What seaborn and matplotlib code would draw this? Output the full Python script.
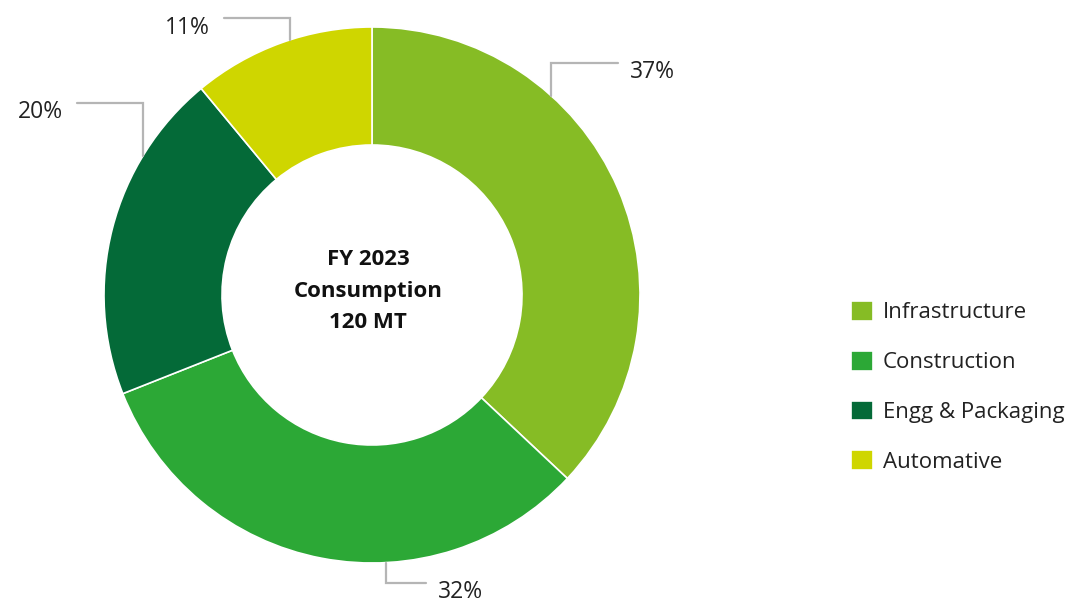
import matplotlib
matplotlib.use("Agg")
import matplotlib.pyplot as plt
import seaborn as sns
import numpy as np

# ---- data ----
categories = ["Infrastructure", "Construction", "Engg & Packaging", "Automative"]
shares = [37, 32, 20, 11]
colors = ["#86BC25", "#2CA836", "#046A38", "#CFD600"]
center_label = "FY 2023\nConsumption\n120 MT"

# ---- layout (pixel space) ----
W, H = 1071, 603
cx, cy = 372, 295
r_out, r_in = 268, 150
# where on each wedge the leader starts (fraction of wedge span), elbow y, horizontal length
anchor_frac = [0.315, 0.38, 0.735, 0.55]
elbow_y = [63, 583, 103, 18]
horiz_len = [67, 40, -66, -66]

sns.set_theme(style="white")
plt.rcParams["font.family"] = ["Open Sans", "DejaVu Sans"]

fig = plt.figure(figsize=(W / 100, H / 100), dpi=100)
ax = fig.add_axes([0, 0, 1, 1])

def py(y):
    return H - y

wedges, _ = ax.pie(
    shares, colors=colors, startangle=90, counterclock=False,
    radius=r_out, center=(cx, py(cy)),
    wedgeprops=dict(width=r_out - r_in, edgecolor="white", linewidth=1.2),
)
ax.set_xlim(0, W)
ax.set_ylim(0, H)
ax.set_aspect("equal")
ax.axis("off")

# leader lines and labels
total = float(sum(shares))
start = 90.0
for i, v in enumerate(shares):
    span = v / total * 360.0
    ang = np.deg2rad(start - anchor_frac[i] * span)
    x0 = cx + r_out * np.cos(ang)
    y0 = cy - r_out * np.sin(ang)
    x1 = x0 + horiz_len[i]
    ax.plot([x0, x0, x1], [py(y0), py(elbow_y[i]), py(elbow_y[i])],
            color="#b5b5b5", lw=1.6, solid_joinstyle="miter", zorder=1)
    if horiz_len[i] > 0:
        ax.text(x1 + 12, py(elbow_y[i] + 9.5), f"{v}%", ha="left", va="center",
                fontsize=16.5, color="#222222")
    else:
        ax.text(x1 - 14, py(elbow_y[i] + 9.5), f"{v}%", ha="right", va="center",
                fontsize=16.5, color="#222222")
    start -= span

ax.text(cx - 4, py(cy - 4), center_label, ha="center", va="center",
        fontsize=16, fontweight="bold", color="#111111", linespacing=1.65)

leg = ax.legend(
    wedges, categories, loc="upper left", bbox_to_anchor=(833 / W, 1 - 283 / H),
    frameon=False, fontsize=16, handlelength=1.0, handleheight=1.0,
    handletextpad=0.45, labelspacing=1.23, borderpad=0.3,
)
for t in leg.get_texts():
    t.set_color("#222222")

fig.savefig("out.png", dpi=100, facecolor="white")
